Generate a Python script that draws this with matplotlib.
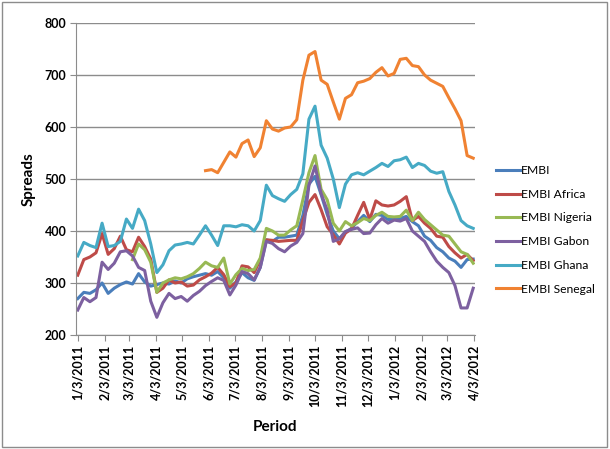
import matplotlib
matplotlib.use('Agg')
import matplotlib.pyplot as plt
import pandas as pd
from matplotlib.patches import Rectangle

# weekly observations, 1/3/2011 .. 4/2/2012
dates = pd.date_range("2011-01-03", periods=66, freq="7D")

embi = [270, 282, 280, 287, 300, 280, 290, 297, 302, 298, 318, 302, 294, 297, 300, 298, 304,
        300, 308, 312, 315, 318, 315, 322, 310, 290, 302, 320, 310, 305, 330, 383, 380, 388,
        388, 390, 392, 430, 490, 505, 470, 432, 400, 385, 398, 405, 418, 430, 418, 432, 430,
        422, 422, 424, 428, 418, 410, 390, 382, 368, 360, 348, 342, 330, 345, 346]
embi_africa = [315, 345, 350, 358, 395, 355, 366, 390, 364, 360, 388, 370, 346, 282, 290, 306,
               300, 302, 294, 296, 306, 312, 319, 330, 316, 293, 300, 333, 331, 320, 345, 383,
               382, 380, 381, 382, 382, 420, 455, 470, 441, 408, 393, 375, 396, 404, 430, 455,
               422, 458, 450, 448, 450, 457, 466, 420, 428, 415, 405, 390, 388, 370, 358, 348,
               355, 343]
# Nigeria starts 3/7/2011
embi_nigeria = [345, 375, 364, 340, 282, 300, 306, 310, 308, 312, 318, 328, 340, 333, 330, 348,
                298, 316, 328, 324, 326, 348, 405, 400, 392, 392, 402, 410, 460, 512, 545, 480,
                460, 415, 400, 418, 410, 416, 424, 420, 430, 436, 428, 427, 428, 440, 420, 436,
                422, 412, 402, 392, 390, 375, 360, 355, 338]
embi_gabon = [248, 272, 264, 272, 340, 326, 338, 360, 362, 352, 330, 324, 265, 234, 262, 280,
              270, 274, 265, 276, 284, 295, 303, 310, 305, 277, 296, 322, 318, 306, 330, 380,
              376, 366, 360, 371, 378, 395, 488, 525, 472, 440, 380, 385, 399, 403, 406, 395,
              396, 412, 424, 415, 421, 419, 424, 400, 390, 380, 360, 342, 330, 320, 295, 252,
              252, 290]
embi_ghana = [352, 378, 372, 368, 415, 370, 372, 380, 423, 405, 442, 420, 375, 320, 335, 362,
              373, 375, 378, 375, 392, 410, 392, 372, 410, 410, 408, 412, 410, 400, 420, 488,
              468, 462, 457, 470, 480, 510, 615, 640, 565, 540, 500, 445, 490, 508, 512, 508,
              515, 522, 530, 524, 535, 537, 542, 522, 530, 526, 515, 511, 514, 476, 450, 420,
              410, 405]
# Senegal starts 5/30/2011
embi_senegal = [516, 518, 512, 532, 552, 542, 568, 575, 543, 560, 612, 596, 592, 598, 600, 614,
                690, 738, 745, 690, 682, 648, 615, 655, 662, 685, 688, 693, 705, 714, 698, 703,
                730, 732, 718, 716, 700, 690, 684, 678, 656, 635, 612, 545, 540]

labels = ["EMBI", "EMBI Africa", "EMBI Nigeria", "EMBI Gabon", "EMBI Ghana", "EMBI Senegal"]
colors = ["#4A7EBB", "#BE4B48", "#98B954", "#7D60A0", "#46AAC5", "#F08232"]
tick_dates = pd.date_range("2011-01-01", "2012-04-01", freq="MS") + pd.Timedelta(days=2)

plt.rcParams['font.family'] = ['Lato', 'DejaVu Sans']

fig = plt.figure(figsize=(6.1, 4.49), dpi=100)
ax = fig.add_axes([0.1246, 0.2539, 0.654, 0.695])

series = [(dates, embi), (dates, embi_africa), (dates[9:], embi_nigeria),
          (dates, embi_gabon), (dates, embi_ghana), (dates[21:], embi_senegal)]
for (d, v), lab, c in zip(series, labels, colors):
    ax.plot(d, v, color=c, lw=2.2, label=lab, solid_joinstyle='round')

ax.set_ylim(200, 800)
ax.set_yticks(range(200, 801, 100))
ax.set_xlim(pd.Timestamp("2011-01-01"), pd.Timestamp("2012-04-04"))
ax.set_xticks(tick_dates)
ax.set_xticklabels([f"{t.month}/{t.day}/{t.year}" for t in tick_dates],
                   rotation=90, fontsize=9, fontweight='bold')
for t in ax.get_yticklabels():
    t.set_fontsize(9)
    t.set_fontweight('bold')

ax.grid(axis='y', color='#8c8c8c', lw=1.0)
ax.set_axisbelow(True)
for s in ['top', 'right']:
    ax.spines[s].set_visible(False)
for s in ['left', 'bottom']:
    ax.spines[s].set_color('#8c8c8c')
ax.tick_params(axis='both', color='#8c8c8c', length=4, direction='out', pad=3)

ax.set_ylabel("Spreads", fontsize=11, fontweight='bold', labelpad=6)
ax.set_xlabel("Period", fontsize=11, fontweight='bold', labelpad=9)

ax.legend(loc='center left', bbox_to_anchor=(1.025, 0.337), frameon=False, fontsize=8.7,
          handlelength=2.0, handletextpad=0.05, labelspacing=1.05)

fig.patches.append(Rectangle((0.003, 0.004), 0.992, 0.992, transform=fig.transFigure,
                             fill=False, edgecolor='#8c8c8c', lw=1.0))

fig.savefig("out.png", dpi=100)
plt.close(fig)
